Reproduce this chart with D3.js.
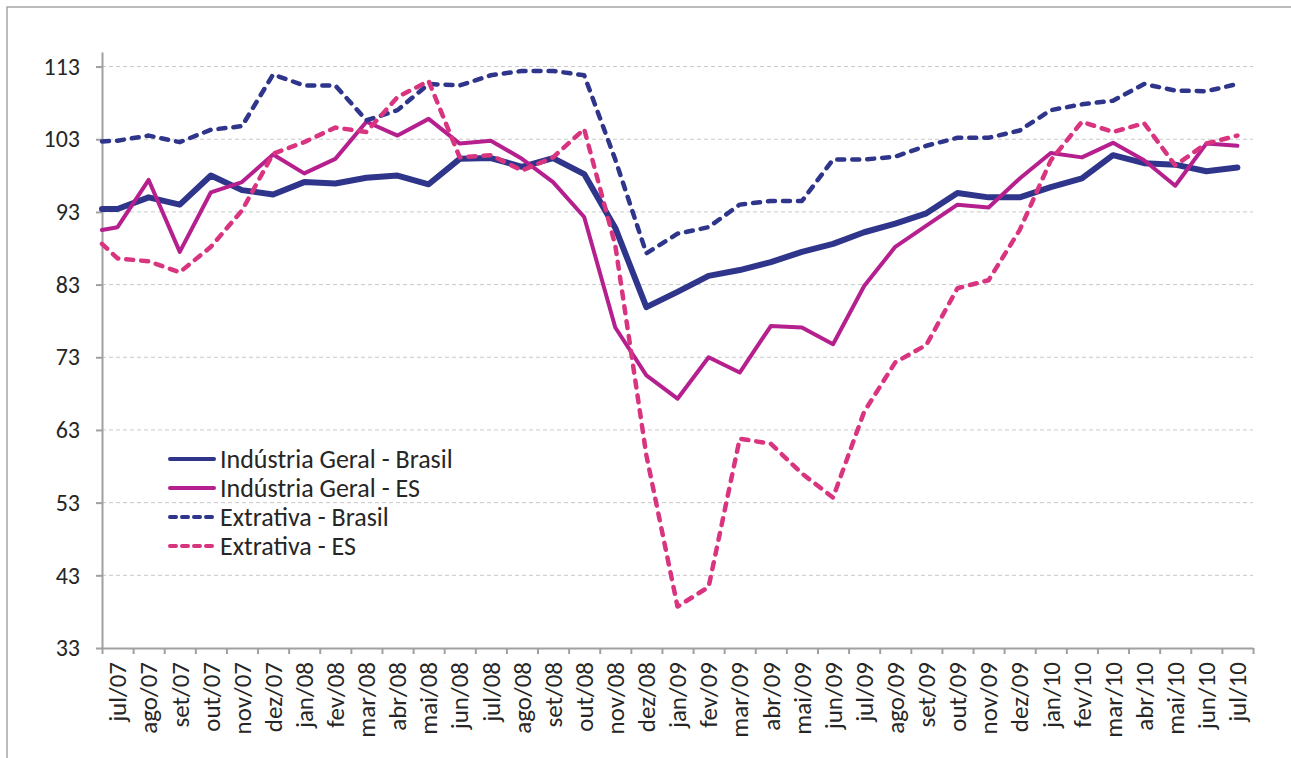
<!DOCTYPE html>
<html>
<head>
<meta charset="utf-8">
<script src="https://cdn.jsdelivr.net/npm/d3@7"></script>
<style>
  html, body { margin: 0; padding: 0; background: #fff; }
  svg { display: block; font-family: Carlito, Calibri, Lato, sans-serif; }
</style>
</head>
<body>
<svg id="chart" width="1291" height="758"></svg>
<script>
const months = [
  "jul/07", "ago/07", "set/07", "out/07", "nov/07", "dez/07",
  "jan/08", "fev/08", "mar/08", "abr/08", "mai/08", "jun/08",
  "jul/08", "ago/08", "set/08", "out/08", "nov/08", "dez/08",
  "jan/09", "fev/09", "mar/09", "abr/09", "mai/09", "jun/09",
  "jul/09", "ago/09", "set/09", "out/09", "nov/09", "dez/09",
  "jan/10", "fev/10", "mar/10", "abr/10", "mai/10", "jun/10", "jul/10"
];

const yTicks = [33, 43, 53, 63, 73, 83, 93, 103, 113];

const geralBrasil = [93.4, 95.0, 94.0, 98.0, 96.0, 95.4, 97.1, 96.9, 97.7, 98.0, 96.8, 100.3,
  100.4, 99.2, 100.4, 98.2, 90.8, 79.9, 82.0, 84.2, 85.0, 86.1, 87.5, 88.6,
  90.2, 91.4, 92.8, 95.6, 95.0, 95.0, 96.4, 97.6, 100.8, 99.7, 99.5, 98.6, 99.1];

const geralES = [90.9, 97.4, 87.5, 95.7, 97.1, 100.9, 98.3, 100.3, 105.4, 103.5, 105.8, 102.4,
  102.8, 100.3, 97.1, 92.3, 77.1, 70.5, 67.3, 73.0, 70.9, 77.3, 77.1, 74.8,
  82.8, 88.2, 91.1, 94.0, 93.6, 97.6, 101.1, 100.5, 102.5, 100.1, 96.6, 102.4, 102.1];

const extrativaBrasil = [102.8, 103.5, 102.6, 104.3, 104.8, 111.9, 110.4, 110.4, 105.6, 107.0, 110.6, 110.4,
  111.8, 112.4, 112.4, 111.8, 100.2, 87.3, 90.0, 90.9, 94.0, 94.5, 94.5, 100.2,
  100.2, 100.6, 102.1, 103.2, 103.2, 104.2, 107.0, 107.8, 108.3, 110.6, 109.7, 109.6, 110.6];

const extrativaES = [86.6, 86.2, 84.7, 88.2, 93.2, 101.0, 102.6, 104.6, 104.0, 108.8, 111.0, 100.5,
  100.8, 98.7, 100.5, 104.4, 88.4, 59.5, 38.7, 41.4, 61.8, 61.1, 57.0, 53.7,
  65.5, 72.3, 74.7, 82.5, 83.6, 90.5, 100.1, 105.4, 104.0, 105.2, 99.4, 102.4, 103.5];

// value where each line meets the left axis (lines begin at the plot edge)
const startValues = [93.4, 90.5, 102.7, 88.6];

const seriesNames = ["Indústria Geral - Brasil", "Indústria Geral - ES", "Extrativa - Brasil", "Extrativa - ES"];
const seriesValues = [geralBrasil, geralES, extrativaBrasil, extrativaES];
const seriesColors = ["#2e358a", "#b5208e", "#2e358a", "#d9347f"];
const seriesWidths = [6, 4, 4.5, 4.5];
const seriesDash = [null, null, "7,8", "7,8"];

const svg = d3.select("#chart");
const plot = { left: 102, right: 1253, top: 52, bottom: 648 };

// outer frame
svg.append("rect")
  .attr("x", 7).attr("y", 7)
  .attr("width", 1300).attr("height", 800)
  .attr("fill", "none")
  .attr("stroke", "#a6a6a6")
  .attr("stroke-width", 1.5);

const x = d3.scaleBand().domain(months).range([plot.left, plot.right]);
const xEdges = d3.scaleLinear().domain([0, months.length]).range([plot.left, plot.right]);
const y = d3.scaleLinear().domain([33, 115]).range([plot.bottom, plot.top]);

// gridlines
svg.append("g")
  .selectAll("line")
  .data(yTicks.slice(1))
  .join("line")
  .attr("x1", plot.left).attr("x2", plot.right)
  .attr("y1", d => y(d)).attr("y2", d => y(d))
  .attr("stroke", "#c9c9c9")
  .attr("stroke-width", 1)
  .attr("stroke-dasharray", "4,3");

// y axis
const yAxis = svg.append("g")
  .attr("transform", `translate(${plot.left},0)`)
  .call(d3.axisLeft(y).tickValues(yTicks).tickSize(6).tickSizeOuter(0).tickPadding(16))
  .attr("font-family", null);
yAxis.select(".domain").attr("stroke", "#a0a0a0").attr("stroke-width", 2);
yAxis.selectAll(".tick line").attr("stroke", "#a0a0a0").attr("stroke-width", 2);
yAxis.selectAll(".tick text").attr("font-size", 24).attr("fill", "#262626");

// x axis: tick marks at category boundaries
const xTickAxis = svg.append("g")
  .attr("transform", `translate(0,${plot.bottom})`)
  .call(d3.axisBottom(xEdges).tickValues(d3.range(months.length + 1)).tickFormat("").tickSize(6).tickSizeOuter(0));
xTickAxis.select(".domain").attr("stroke", "#a0a0a0").attr("stroke-width", 2);
xTickAxis.selectAll(".tick line").attr("stroke", "#a0a0a0").attr("stroke-width", 2);

// x axis labels, centered on categories
const xLabelAxis = svg.append("g")
  .attr("transform", `translate(0,${plot.bottom})`)
  .call(d3.axisBottom(x).tickSize(0).tickPadding(0))
  .attr("font-family", null);
xLabelAxis.select(".domain").remove();
xLabelAxis.selectAll(".tick text")
  .attr("font-size", 25)
  .attr("fill", "#262626")
  .attr("transform", "rotate(-90)")
  .attr("text-anchor", "end")
  .attr("x", -14)
  .attr("y", 0)
  .attr("dy", "0.35em");

// lines
const line = d3.line().x(d => d[0]).y(d => y(d[1]));

seriesValues.forEach((vals, i) => {
  const pts = [[plot.left, startValues[i]]].concat(vals.map((v, j) => [x(months[j]) + x.bandwidth() / 2, v]));
  svg.append("path")
    .datum(pts)
    .attr("d", line)
    .attr("fill", "none")
    .attr("stroke", seriesColors[i])
    .attr("stroke-width", seriesWidths[i])
    .attr("stroke-linejoin", "round")
    .attr("stroke-linecap", "round")
    .attr("stroke-dasharray", seriesDash[i]);
});

// legend
const legend = svg.append("g").attr("transform", "translate(168,459)");
seriesNames.forEach((name, i) => {
  const row = legend.append("g").attr("transform", `translate(0,${i * 29})`);
  row.append("line")
    .attr("x1", 2).attr("x2", 46)
    .attr("stroke", seriesColors[i])
    .attr("stroke-width", 4)
    .attr("stroke-linecap", "round")
    .attr("stroke-dasharray", seriesDash[i] ? "6,6" : null);
  row.append("text")
    .attr("x", 52)
    .attr("dy", "0.35em")
    .attr("font-size", 26)
    .attr("fill", "#262626")
    .text(name);
});
</script>
</body>
</html>
